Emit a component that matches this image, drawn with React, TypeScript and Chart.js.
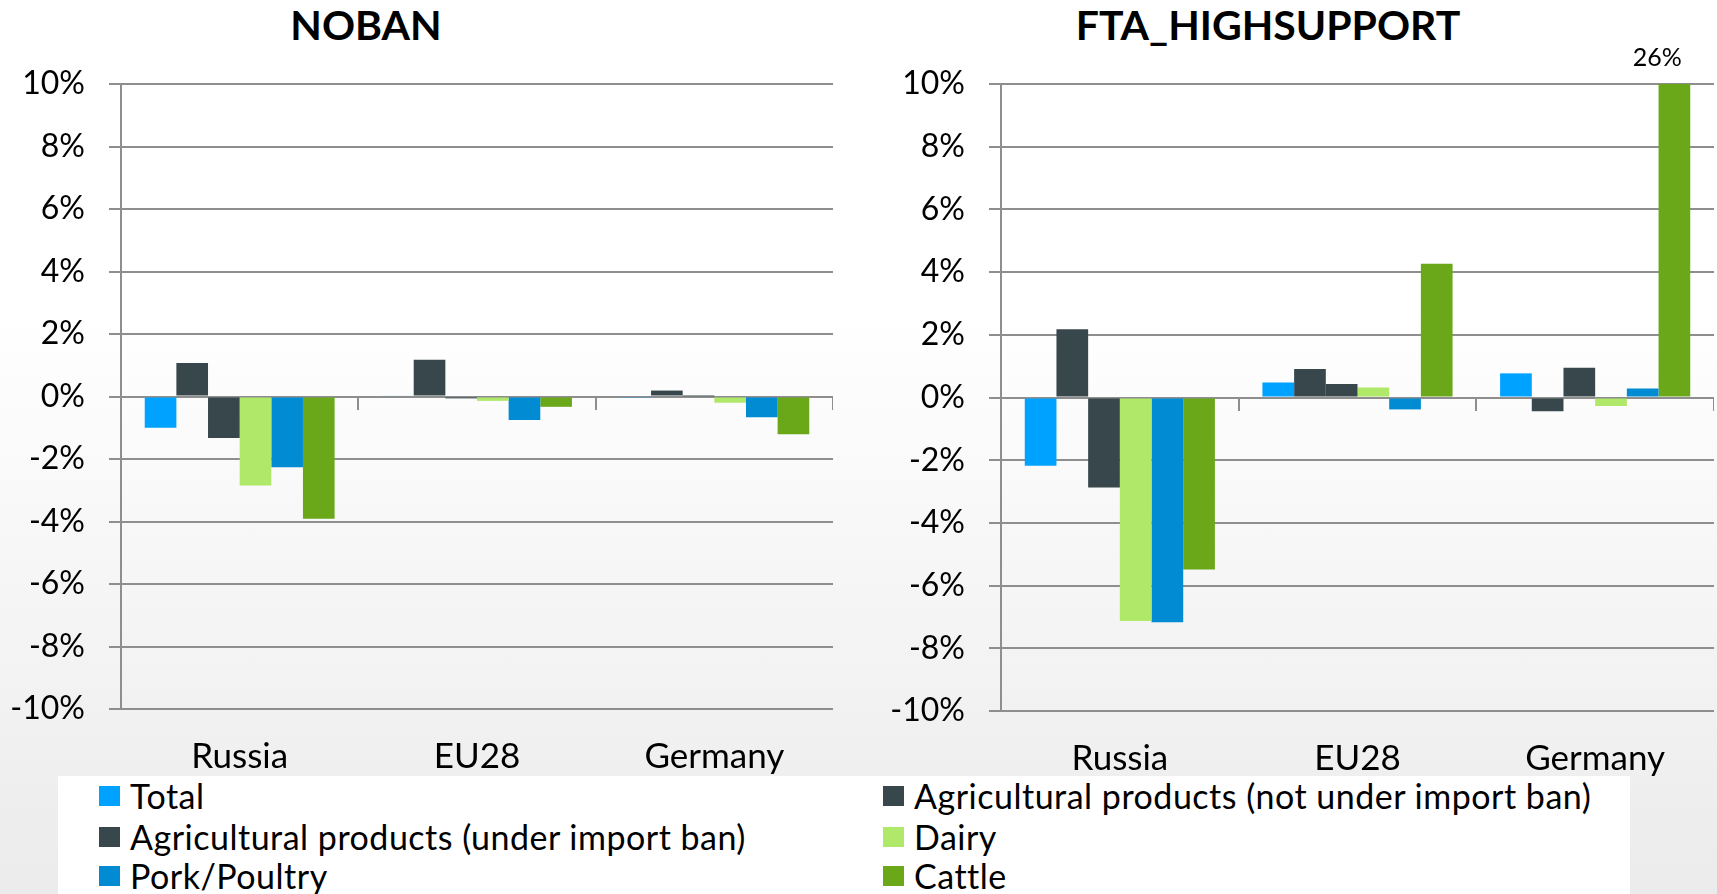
import React, { useEffect, useRef } from "react";
import { Chart, registerables } from "chart.js";

Chart.register(...registerables);

// ---- Data ----
const categories = ["Russia", "EU28", "Germany"];
const seriesNames = [
  "Total",
  "Agricultural products (not under import ban)",
  "Agricultural products (under import ban)",
  "Dairy",
  "Pork/Poultry",
  "Cattle",
];
const seriesColors = ["#00A2FF", "#37474B", "#37474B", "#B0E86A", "#008BD2", "#6AA81A"];

// NOBAN scenario (% change)
const nobanTotal = [-1.0, 0.03, -0.02];
const nobanAgNotBan = [1.07, 1.18, 0.19];
const nobanAgBan = [-1.33, -0.06, 0.01];
const nobanDairy = [-2.85, -0.14, -0.2];
const nobanPork = [-2.26, -0.75, -0.66];
const nobanCattle = [-3.91, -0.33, -1.21];

// FTA_HIGHSUPPORT scenario (% change)
const ftaTotal = [-2.18, 0.48, 0.77];
const ftaAgNotBan = [2.18, 0.91, -0.44];
const ftaAgBan = [-2.87, 0.43, 0.95];
const ftaDairy = [-7.13, 0.32, -0.27];
const ftaPork = [-7.17, -0.38, 0.29];
const ftaCattle = [-5.49, 4.27, 26];

const yMin = -10;
const yMax = 10;
const yStep = 2;

const titles = ["NOBAN", "FTA_HIGHSUPPORT"];

const FONT = 'Lato, "Open Sans", "DejaVu Sans", sans-serif';
const GRID = "#8e8e8e";

const overLabelPlugin = {
  id: "overLabel",
  afterDatasetsDraw(chart: any) {
    const ctx = chart.ctx;
    chart.data.datasets.forEach((d: any, di: number) => {
      const meta = chart.getDatasetMeta(di);
      (d.data as number[]).forEach((v, i) => {
        if (v > yMax) {
          const el = meta.data[i];
          ctx.save();
          ctx.font = `25px ${FONT}`;
          ctx.fillStyle = "#000";
          ctx.textAlign = "center";
          ctx.textBaseline = "middle";
          ctx.fillText(`${v}%`, el.x - 17, chart.chartArea.top - 26);
          ctx.restore();
        }
      });
    });
  },
};

function ScenarioChart(props: { values: number[][]; left: number; width: number; height: number }) {
  const ref = useRef<HTMLCanvasElement>(null);
  useEffect(() => {
    const chart = new Chart(ref.current as HTMLCanvasElement, {
      type: "bar",
      data: {
        labels: categories,
        datasets: seriesNames.map((name, i) => ({
          label: name,
          data: props.values[i],
          backgroundColor: seriesColors[i],
          borderWidth: 0,
          barPercentage: 1,
          categoryPercentage: 0.8,
        })),
      },
      options: {
        responsive: false,
        animation: false,
        devicePixelRatio: 1,
        layout: { padding: { top: 84, left: 0, right: 0, bottom: 0 } },
        plugins: {
          legend: { display: false },
          tooltip: { enabled: false },
          title: { display: false },
        },
        scales: {
          x: {
            type: "category",
            position: "bottom",
            grid: { display: false, drawTicks: false },
            border: { display: false },
            ticks: {
              font: { family: FONT, size: 35 },
              color: "#000",
              padding: 27,
              maxRotation: 0,
              autoSkip: false,
            },
            afterFit: (s: any) => {
              s.height = 71;
            },
          },
          x0: {
            type: "category",
            axis: "x",
            position: { y: 0 },
            offset: true,
            grid: {
              offset: true,
              drawOnChartArea: false,
              drawTicks: true,
              tickLength: 12,
              color: GRID,
              lineWidth: 2,
            },
            border: { display: true, color: GRID, width: 2 },
            ticks: { display: false },
          },
          y: {
            type: "linear",
            min: yMin,
            max: yMax,
            ticks: {
              stepSize: yStep,
              callback: (v: any) => `${v}%`,
              font: { family: FONT, size: 32 },
              color: "#000",
              padding: 24,
            },
            grid: { color: GRID, lineWidth: 2, tickLength: 12 },
            border: { display: true, color: GRID, width: 2 },
            afterFit: (s: any) => {
              s.width = 121;
            },
          },
        },
      } as any,
      plugins: [overLabelPlugin],
    });
    return () => chart.destroy();
  }, []);
  return (
    <canvas
      ref={ref}
      width={props.width}
      height={props.height}
      style={{ position: "absolute", left: props.left, top: 0, width: props.width, height: props.height, display: "block" }}
    />
  );
}

export default function App() {
  const nobanValues = [nobanTotal, nobanAgNotBan, nobanAgBan, nobanDairy, nobanPork, nobanCattle];
  const ftaValues = [ftaTotal, ftaAgNotBan, ftaAgBan, ftaDairy, ftaPork, ftaCattle];
  const titleCenters = [366, 1268];
  const colLeft = [99, 883];
  const rowCenter = [796.5, 837.5, 876.5];
  return (
    <div
      style={{
        position: "fixed",
        left: 0,
        top: 0,
        width: 1717,
        height: 894,
        overflow: "hidden",
        background: "linear-gradient(180deg, #ffffff 0%, #ffffff 35%, #ebebeb 100%)",
        fontFamily: FONT,
      }}
    >
      {titles.map((t, i) => (
        <div
          key={t}
          style={{
            position: "absolute",
            left: titleCenters[i] - 300,
            width: 600,
            top: -2,
            height: 54,
            lineHeight: "54px",
            textAlign: "center",
            fontWeight: 700,
            fontSize: 41,
            color: "#000",
          }}
        >
          {t}
        </div>
      ))}
      <div style={{ position: "absolute", left: 58, top: 776, width: 1572, height: 118, background: "#ffffff" }} />
      {seriesNames.map((name, i) => (
        <div
          key={name}
          style={{
            position: "absolute",
            left: colLeft[i % 2],
            top: rowCenter[Math.floor(i / 2)] - 21,
            height: 40,
            display: "flex",
            alignItems: "center",
            whiteSpace: "nowrap",
            fontSize: 34,
            letterSpacing: "0.5px",
            lineHeight: "40px",
            color: "#000",
          }}
        >
          <span style={{ display: "inline-block", width: 21, height: 20, background: seriesColors[i], marginRight: 10 }} />
          <span>{name}</span>
        </div>
      ))}
      <ScenarioChart values={nobanValues} left={0} width={833} height={780} />
      <ScenarioChart values={ftaValues} left={880} width={834} height={782} />
    </div>
  );
}
